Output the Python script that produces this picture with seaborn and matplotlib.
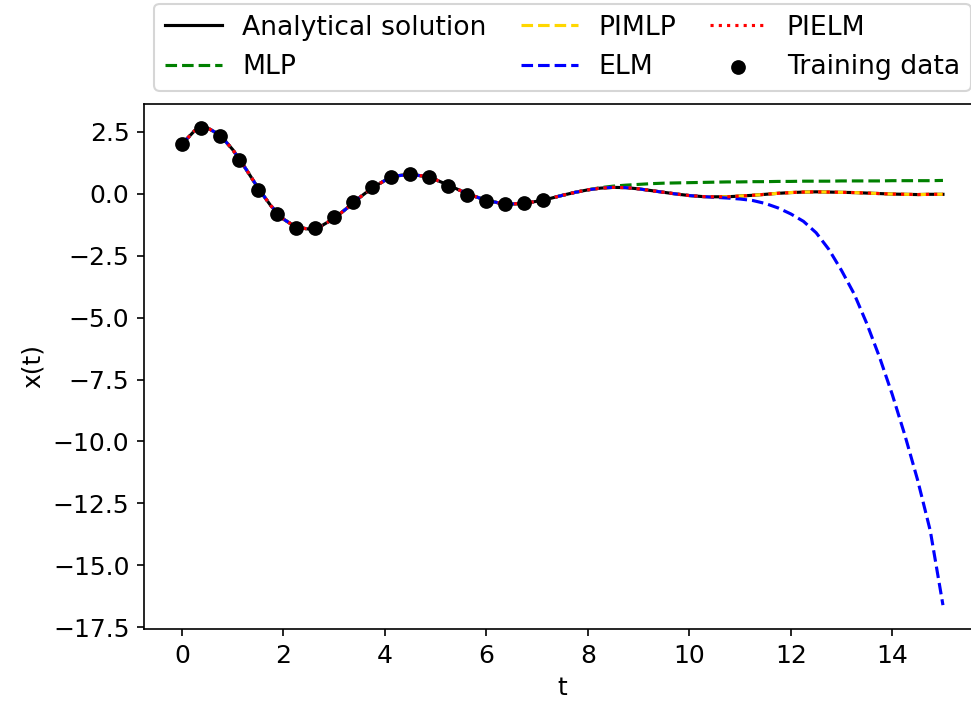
import numpy as np
import pandas as pd
import matplotlib
matplotlib.use('Agg')
import matplotlib.pyplot as plt
import seaborn as sns

plt.rcParams['font.size'] = 12

# time grid of the curves
t = [0.0, 0.25, 0.5, 0.75, 1.0, 1.25, 1.5, 1.75, 2.0, 2.25,
     2.5, 2.75, 3.0, 3.25, 3.5, 3.75, 4.0, 4.25, 4.5, 4.75,
     5.0, 5.25, 5.5, 5.75, 6.0, 6.25, 6.5, 6.75, 7.0, 7.25,
     7.5, 7.75, 8.0, 8.25, 8.5, 8.75, 9.0, 9.25, 9.5, 9.75,
     10.0, 10.25, 10.5, 10.75, 11.0, 11.25, 11.5, 11.75, 12.0, 12.25,
     12.5, 12.75, 13.0, 13.25, 13.5, 13.75, 14.0, 14.25, 14.5, 14.75,
     15.0]

analytical = [2.00, 2.54, 2.65, 2.36, 1.77, 1.02, 0.22, -0.49, -1.03, -1.36,
              -1.43, -1.30, -1.00, -0.59, -0.16, 0.23, 0.53, 0.72, 0.77, 0.71,
              0.56, 0.34, 0.11, -0.10, -0.27, -0.38, -0.42, -0.39, -0.31, -0.20,
              -0.07, 0.05, 0.15, 0.22, 0.25, 0.24, 0.19, 0.12, 0.05, -0.02,
              -0.08, -0.12, -0.13, -0.13, -0.10, -0.07, -0.03, 0.01, 0.04, 0.06,
              0.07, 0.06, 0.05, 0.04, 0.02, 0.00, -0.02, -0.03, -0.04, -0.03,
              -0.03]

mlp = [2.00, 2.54, 2.65, 2.36, 1.77, 1.02, 0.22, -0.49, -1.03, -1.36,
       -1.43, -1.30, -1.00, -0.59, -0.16, 0.23, 0.53, 0.72, 0.77, 0.71,
       0.56, 0.34, 0.11, -0.10, -0.27, -0.38, -0.42, -0.39, -0.31, -0.20,
       -0.07, 0.05, 0.15, 0.24, 0.30, 0.34, 0.37, 0.40, 0.42, 0.43,
       0.44, 0.45, 0.46, 0.47, 0.47, 0.48, 0.48, 0.49, 0.49, 0.50,
       0.50, 0.50, 0.51, 0.51, 0.51, 0.51, 0.52, 0.52, 0.52, 0.52,
       0.53]

pimlp = [2.00, 2.54, 2.65, 2.36, 1.77, 1.02, 0.22, -0.49, -1.03, -1.36,
         -1.43, -1.30, -1.00, -0.59, -0.16, 0.23, 0.53, 0.72, 0.77, 0.71,
         0.56, 0.34, 0.11, -0.10, -0.27, -0.38, -0.42, -0.39, -0.31, -0.20,
         -0.07, 0.05, 0.15, 0.22, 0.25, 0.24, 0.19, 0.12, 0.05, -0.02,
         -0.08, -0.12, -0.13, -0.13, -0.10, -0.07, -0.03, 0.01, 0.04, 0.06,
         0.07, 0.06, 0.05, 0.04, 0.02, 0.00, -0.02, -0.03, -0.04, -0.03,
         -0.03]

elm = [2.00, 2.54, 2.65, 2.36, 1.77, 1.02, 0.22, -0.49, -1.03, -1.36,
       -1.43, -1.30, -1.00, -0.59, -0.16, 0.23, 0.53, 0.72, 0.77, 0.71,
       0.56, 0.34, 0.11, -0.10, -0.27, -0.38, -0.42, -0.39, -0.31, -0.20,
       -0.07, 0.05, 0.15, 0.22, 0.25, 0.24, 0.19, 0.12, 0.05, -0.02,
       -0.08, -0.12, -0.15, -0.18, -0.22, -0.28, -0.40, -0.58, -0.82, -1.12,
       -1.58, -2.25, -3.10, -4.05, -5.25, -6.60, -8.10, -9.75, -11.55, -13.60,
       -16.60]

pielm = [2.00, 2.54, 2.65, 2.36, 1.77, 1.02, 0.22, -0.49, -1.03, -1.36,
         -1.43, -1.30, -1.00, -0.59, -0.16, 0.23, 0.53, 0.72, 0.77, 0.71,
         0.56, 0.34, 0.11, -0.10, -0.27, -0.38, -0.42, -0.39, -0.31, -0.20,
         -0.07, 0.05, 0.15, 0.22, 0.25, 0.24, 0.19, 0.12, 0.05, -0.02,
         -0.08, -0.12, -0.13, -0.13, -0.10, -0.07, -0.03, 0.01, 0.04, 0.06,
         0.07, 0.06, 0.05, 0.04, 0.02, 0.00, -0.02, -0.03, -0.04, -0.03,
         -0.03]

# training points
t_train = [0.0, 0.375, 0.75, 1.125, 1.5, 1.875, 2.25, 2.625, 3.0, 3.375,
           3.75, 4.125, 4.5, 4.875, 5.25, 5.625, 6.0, 6.375, 6.75, 7.125]
x_train = [2.01, 2.65, 2.34, 1.36, 0.16, -0.84, -1.39, -1.39, -0.96, -0.34,
           0.27, 0.66, 0.80, 0.66, 0.31, -0.06, -0.31, -0.41, -0.39, -0.26]

fig = plt.figure(figsize=(971 / 150, 708 / 150), dpi=150)
ax = fig.add_axes([0.1483, 0.1116, 0.862, 0.7415])

sns.lineplot(x=t, y=analytical, color='k', label='Analytical solution', ax=ax)
sns.lineplot(x=t, y=mlp, color='g', linestyle='--', label='MLP', ax=ax)
sns.lineplot(x=t, y=pimlp, color='gold', linestyle='--', label='PIMLP', ax=ax)
sns.lineplot(x=t, y=elm, color='b', linestyle='--', label='ELM', ax=ax)
sns.lineplot(x=t, y=pielm, color='r', linestyle=':', label='PIELM', ax=ax)
sns.scatterplot(x=t_train, y=x_train, color='k', s=50, linewidth=0,
                label='Training data', zorder=5, ax=ax)

ax.set_xlabel('t')
ax.set_ylabel('x(t)')

# legend above the axes, 3 columns
ax.legend(ncol=3, loc='lower center', bbox_to_anchor=(0.5, 1.0),
          fontsize=12.8, handlelength=2.15, handletextpad=0.75,
          columnspacing=1.27)

fig.savefig('out.png', dpi=150)
